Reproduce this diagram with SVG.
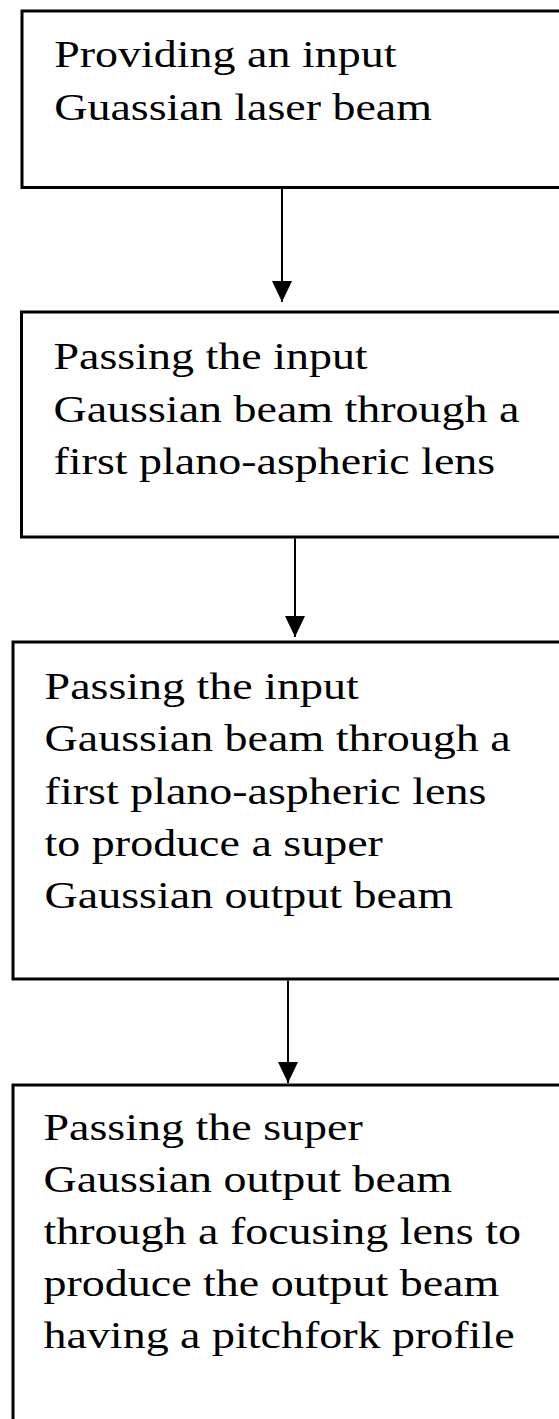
<svg xmlns="http://www.w3.org/2000/svg" width="559" height="1419" viewBox="0 0 559 1419">
  <style>
    .box { fill: #ffffff; stroke: #000000; stroke-width: 3; }
    .label { font-family: "Liberation Serif", "Times New Roman", serif; font-size: 37px; fill: #000000; }
    .link { stroke: #000000; stroke-width: 2; fill: none; marker-end: url(#head); }
  </style>
  <defs>
    <marker id="head" markerUnits="userSpaceOnUse" markerWidth="21" markerHeight="20" refX="21" refY="10" orient="auto">
      <path d="M0,0 L21,10 L0,20 Z" fill="#000000"/>
    </marker>
  </defs>
  <rect width="559" height="1419" fill="#ffffff"/>

  <!-- process steps -->
  <g id="step1">
    <rect class="box" x="22" y="11" width="560" height="176.5"/>
    <text class="label" transform="matrix(1.243 0 0 1 54.2 66.7)">
      <tspan x="0" y="0">Providing an input</tspan>
      <tspan x="0" dy="53.3">Guassian laser beam</tspan>
    </text>
  </g>

  <g id="step2">
    <rect class="box" x="21.5" y="312" width="560" height="225"/>
    <text class="label" transform="matrix(1.243 0 0 1 53.5 369.3)">
      <tspan x="0" y="0">Passing the input</tspan>
      <tspan x="0" dy="52.3">Gaussian beam through a</tspan>
      <tspan x="0" dy="52.3">first plano-aspheric lens</tspan>
    </text>
  </g>

  <g id="step3">
    <rect class="box" x="13" y="642" width="570" height="337"/>
    <text class="label" transform="matrix(1.243 0 0 1 44.6 699.3)">
      <tspan x="0" y="0">Passing the input</tspan>
      <tspan x="0" dy="52.2">Gaussian beam through a</tspan>
      <tspan x="0" dy="52.2">first plano-aspheric lens</tspan>
      <tspan x="0" dy="52.2">to produce a super</tspan>
      <tspan x="0" dy="52.2">Gaussian output beam</tspan>
    </text>
  </g>

  <g id="step4">
    <rect class="box" x="13" y="1085" width="570" height="400"/>
    <text class="label" transform="matrix(1.243 0 0 1 43.5 1140)">
      <tspan x="0" y="0">Passing the super</tspan>
      <tspan x="0" dy="52">Gaussian output beam</tspan>
      <tspan x="0" dy="52">through a focusing lens to</tspan>
      <tspan x="0" dy="52">produce the output beam</tspan>
      <tspan x="0" dy="52">having a pitchfork profile</tspan>
    </text>
  </g>

  <!-- connectors -->
  <g id="connectors">
    <line class="link" x1="282" y1="189" x2="282" y2="302"/>
    <line class="link" x1="295" y1="538.5" x2="295" y2="637"/>
    <line class="link" x1="288" y1="980.5" x2="288" y2="1083"/>
  </g>
</svg>
